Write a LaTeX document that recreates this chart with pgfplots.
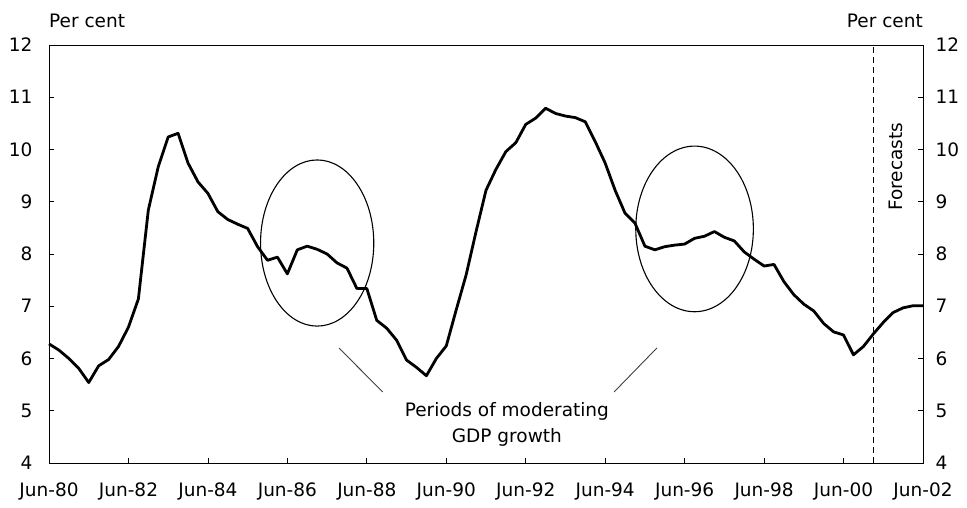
\documentclass[border=0pt]{standalone}
\usepackage{pgfplots}
\pgfplotsset{compat=1.18}
\usepackage{fontspec}
\setmainfont{DejaVu Sans}
\begin{document}
\begin{tikzpicture}[font=\fontsize{18.5}{26}\selectfont]
\useasboundingbox (-49pt,-45pt) rectangle (918pt,463pt);
\begin{axis}[
  at={(0,0)}, anchor=south west,
  scale only axis, width=874pt, height=418pt,
  xmin=0, xmax=88, ymin=4, ymax=12,
  clip=false,
  xtick={0,8,...,88},
  xticklabels={Jun-80,Jun-82,Jun-84,Jun-86,Jun-88,Jun-90,Jun-92,Jun-94,Jun-96,Jun-98,Jun-00,Jun-02},
  xtick pos=bottom,
  ytick={4,5,...,12},
  ytick pos=both, yticklabel pos=left,
  tick align=inside,
  major tick length=5pt,
  tick style={black, line width=0.8pt},
  axis line style={black, line width=0.9pt},
  /pgf/number format/assume math mode=true,
  xticklabel style={yshift=-16pt},
  yticklabel style={xshift=-13pt},
]
\addplot[black, line width=2.8pt, line join=round] coordinates {
(0,6.28) (1,6.16) (2,6.00) (3,5.81) (4,5.54) (5,5.86) (6,5.98) (7,6.23) (8,6.60) (9,7.14)
(10,8.84) (11,9.67) (12,10.24) (13,10.31) (14,9.74) (15,9.38) (16,9.16) (17,8.81) (18,8.66) (19,8.57)
(20,8.49) (21,8.14) (22,7.88) (23,7.94) (24,7.62) (25,8.08) (26,8.15) (27,8.09) (28,8.00) (29,7.83)
(30,7.73) (31,7.34) (32,7.34) (33,6.73) (34,6.58) (35,6.35) (36,5.97) (37,5.83) (38,5.67) (39,6.00)
(40,6.24) (41,6.93) (42,7.60) (43,8.43) (44,9.22) (45,9.62) (46,9.96) (47,10.13) (48,10.48) (49,10.60)
(50,10.79) (51,10.69) (52,10.64) (53,10.61) (54,10.53) (55,10.15) (56,9.74) (57,9.22) (58,8.78) (59,8.59)
(60,8.15) (61,8.08) (62,8.14) (63,8.17) (64,8.19) (65,8.30) (66,8.34) (67,8.43) (68,8.32) (69,8.25)
(70,8.04) (71,7.90) (72,7.77) (73,7.80) (74,7.47) (75,7.22) (76,7.04) (77,6.91) (78,6.67) (79,6.51)
(80,6.45) (81,6.07) (82,6.23) (83,6.47) (84,6.69) (85,6.88) (86,6.97) (87,7.01) (88,7.01)
};
\addplot[black, line width=1pt, dash pattern=on 6pt off 4pt] coordinates {(83,4) (83,12)};
\draw[black, line width=1.1pt] (axis cs:27,8.21) ellipse [x radius=5.7, y radius=1.59];
\draw[black, line width=1.1pt] (axis cs:65,8.48) ellipse [x radius=5.92, y radius=1.585];
\draw[black!75, line width=0.9pt] (axis cs:29.2,6.2) -- (axis cs:33.6,5.36);
\draw[black!75, line width=0.9pt] (axis cs:61.2,6.2) -- (axis cs:56.9,5.36);
\node[align=center] at (axis cs:46.1,4.73) {Periods of moderating\\GDP growth};
\node[rotate=90] at (axis cs:85.3,9.67) {Forecasts};
\node[anchor=base west, inner sep=0pt] at ([yshift=17pt]rel axis cs:0,1) {Per cent};
\node[anchor=base east, inner sep=0pt] at ([yshift=17pt]rel axis cs:1,1) {Per cent};
\end{axis}
\begin{axis}[
  at={(0,0)}, anchor=south west,
  scale only axis, width=874pt, height=418pt,
  xmin=0, xmax=88, ymin=4, ymax=12,
  axis x line=none, axis y line*=right,
  y axis line style={draw=none},
  ytick={4,5,...,12},
  ytick style={draw=none},
  yticklabel pos=right,
  /pgf/number format/assume math mode=true,
  yticklabel style={xshift=9pt},
]
\addplot[draw=none] coordinates {(0,4) (88,12)};
\end{axis}
\end{tikzpicture}
\end{document}
